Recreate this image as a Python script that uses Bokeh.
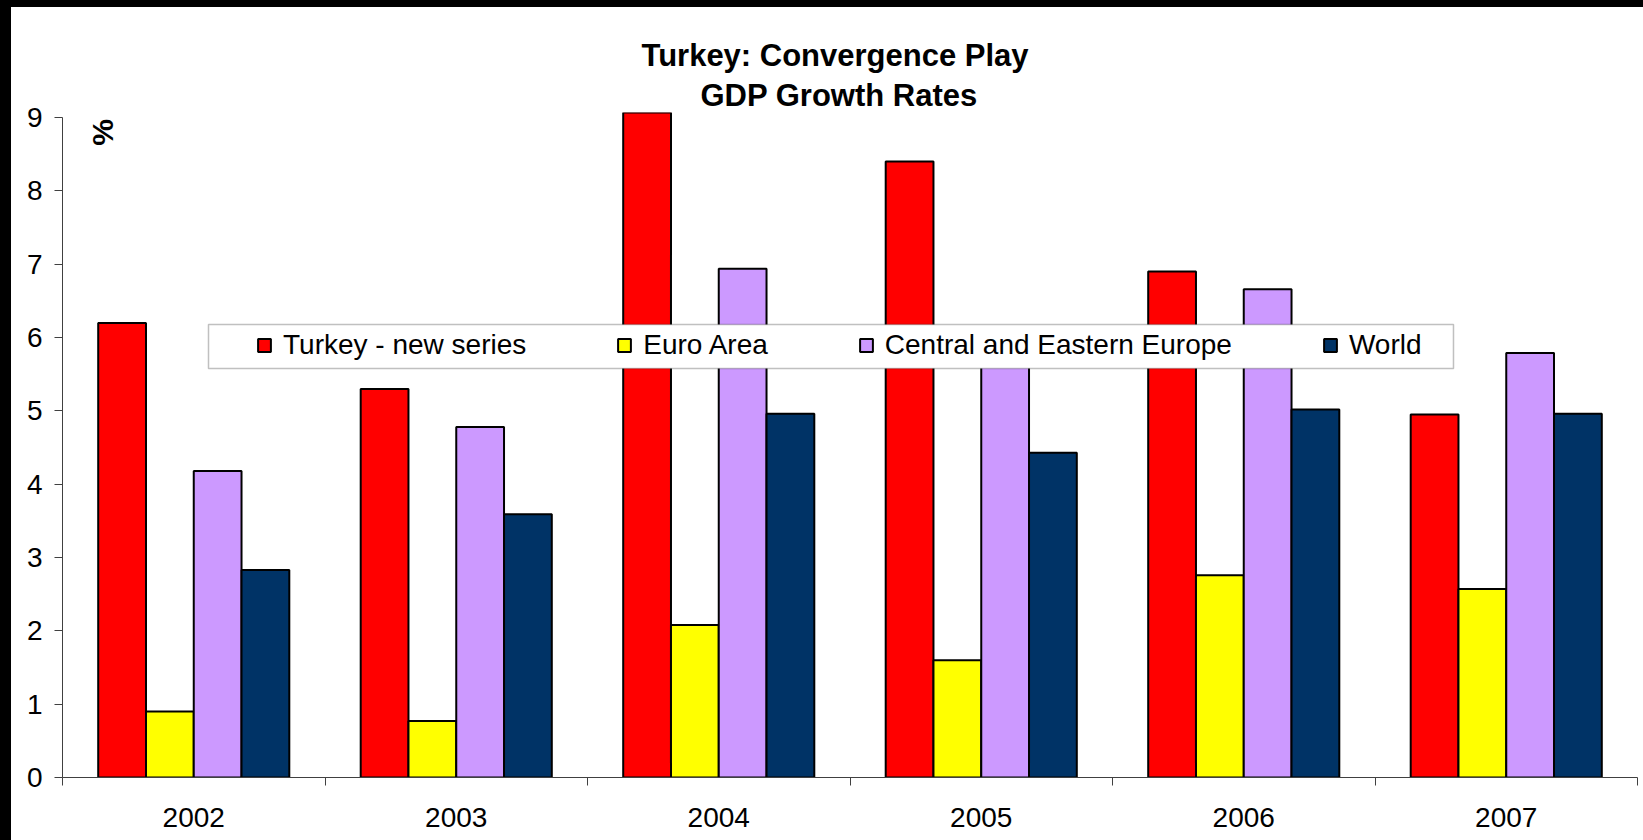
import numpy as np
from bokeh.plotting import figure
from bokeh.models import (Range1d, FixedTicker, Legend, LegendItem, Label,
                          BoxAnnotation, Spacer, Title)
from bokeh.layouts import column, row
from bokeh.embed import file_html
from bokeh.resources import INLINE

# ---- data ----
years = ["2002", "2003", "2004", "2005", "2006", "2007"]
turkey = [6.2, 5.3, 9.9, 8.4, 6.9, 4.95]
euro_area = [0.9, 0.77, 2.08, 1.6, 2.76, 2.57]
cee = [4.18, 4.78, 6.94, 5.9, 6.66, 5.79]
world = [2.83, 3.59, 4.96, 4.43, 5.02, 4.96]
series_names = ["Turkey - new series", "Euro Area", "Central and Eastern Europe", "World"]
series_colors = ["#FF0000", "#FFFF00", "#CC99FF", "#003366"]
y_ticks = [0, 1, 2, 3, 4, 5, 6, 7, 8, 9]
title_lines = ["Turkey: Convergence Play", "GDP Growth Rates"]
y_unit = "%"

FONT = "Liberation Sans"

fig = figure(width=1632, height=833, output_backend="svg", toolbar_location=None,
             x_range=Range1d(0, len(years)), y_range=Range1d(0, 9.07),
             min_border_left=51, min_border_right=6, min_border_top=105,
             min_border_bottom=63)
fig.background_fill_color = "white"
fig.border_fill_color = "white"
fig.outline_line_color = None
fig.xgrid.grid_line_color = None
fig.ygrid.grid_line_color = None

bw = 0.182
centers = np.arange(len(years)) + 0.5
renderers = []
for k, (vals, col) in enumerate(zip([turkey, euro_area, cee, world], series_colors)):
    xs = centers + (k - 1.5) * bw
    r = fig.vbar(x=xs, top=vals, width=bw, bottom=0, fill_color=col,
                 line_color="black", line_width=2)
    renderers.append(r)

# x axis: labels at category centres, ticks at boundaries
xax = fig.xaxis[0]
xax.ticker = FixedTicker(ticks=list(centers), minor_ticks=list(range(len(years) + 1)))
xax.major_label_overrides = {float(c): y for c, y in zip(centers, years)}
xax.major_tick_line_color = None
xax.major_tick_out = 8
xax.major_tick_in = 0
xax.minor_tick_out = 8
xax.minor_tick_in = 0
xax.minor_tick_line_color = "#404040"
xax.axis_line_color = "#404040"
xax.major_label_text_font = FONT
xax.major_label_text_font_size = "28px"
xax.major_label_text_color = "black"
xax.major_label_standoff = 22

yax = fig.yaxis[0]
yax.ticker = FixedTicker(ticks=y_ticks)
yax.bounds = (0, 9)
yax.major_tick_out = 8
yax.major_tick_in = 0
yax.minor_tick_line_color = None
yax.major_tick_line_color = "#404040"
yax.axis_line_color = "#404040"
yax.major_label_text_font = FONT
yax.major_label_text_font_size = "28px"
yax.major_label_text_color = "black"
yax.major_label_standoff = 12

# legend box
box = BoxAnnotation(left=0.5562, right=5.299, bottom=5.58, top=6.18,
                    fill_color="white", fill_alpha=1.0,
                    line_color="#303030", line_width=1.5)
fig.add_layout(box)

legend = Legend(items=[LegendItem(label=n, renderers=[r]) for n, r in zip(series_names, renderers)],
                orientation="horizontal", location=(194, 416),
                padding=0, margin=0, spacing=90, label_standoff=11,
                glyph_width=16, glyph_height=16,
                border_line_color=None, background_fill_alpha=0.0,
                label_text_font=FONT, label_text_font_size="28px",
                label_text_color="black")
fig.add_layout(legend, "center")

# titles (stacked outward from the frame), left aligned with offsets so they centre at ~x=837
fig.add_layout(Title(text=title_lines[1], align="left", offset=638, standoff=0,
                     text_font=FONT, text_font_size="31px", text_font_style="bold",
                     text_color="black"), "above")
fig.add_layout(Title(text=title_lines[0], align="left", offset=579, standoff=5,
                     text_font=FONT, text_font_size="31px", text_font_style="bold",
                     text_color="black"), "above")

fig.add_layout(Label(x=0.152, y=8.8, text=y_unit, angle=np.pi / 2, text_align="center",
                     text_baseline="middle", text_font=FONT, text_font_size="30px",
                     text_font_style="bold", text_color="black"))

top_band = Spacer(width=1643, height=7, styles={"background-color": "black"})
left_band = Spacer(width=11, height=833, styles={"background-color": "black"})
p = column(top_band, row(left_band, fig))

open("out.html", "w").write(file_html(p, INLINE))
